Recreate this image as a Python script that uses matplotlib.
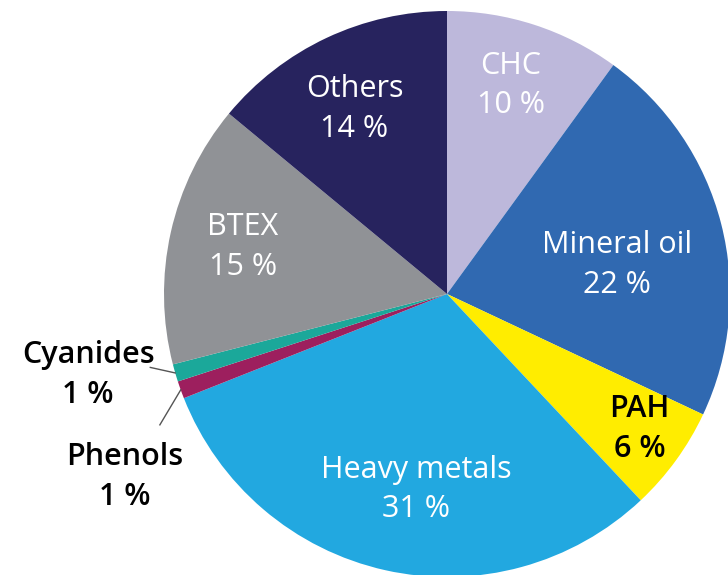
import numpy as np
import matplotlib.pyplot as plt

labels = ["CHC", "Mineral oil", "PAH", "Heavy metals", "Phenols", "Cyanides", "BTEX", "Others"]
shares = [10, 22, 6, 31, 1, 1, 15, 14]
colors = ["#bdb8db", "#3069b1", "#ffed00", "#22a8e0", "#9d1f5e", "#1ba89a", "#909296", "#27235e"]
text_colors = ["white", "white", "black", "white", "black", "black", "white", "white"]
text_weights = ["normal", "normal", "semibold", "normal", "semibold", "semibold", "normal", "normal"]

# label placement (radius as fraction of pie radius, angle in degrees)
label_pos = [(0.77, 73), (0.61, 9.6), (0.83, -35), (0.70, -99),
             (1.31, -150.4), (1.30, 192.7), (0.74, 167), (0.73, 116.6)]
# leader line start for the small slices outside the pie
leader_start = {"Phenols": (1.115, 204.5), "Cyanides": (1.08, 193.9)}

W, H = 728, 575
cx, cy, R = 447, 294, 283

fig = plt.figure(figsize=(W / 100, H / 100), dpi=100)
ax = fig.add_axes([0, 0, 1, 1])

wedges, _ = ax.pie(shares, colors=colors, startangle=90, counterclock=False,
                   radius=1.0, center=(0, 0), wedgeprops=dict(linewidth=0),
                   frame=True)
ax.set_xlim(-cx / R, (W - cx) / R)
ax.set_ylim(-(H - cy) / R, cy / R)
ax.set_aspect("equal")
ax.axis("off")


def polar(r, a):
    return r * np.cos(np.radians(a)), r * np.sin(np.radians(a))


for i, (lab, val) in enumerate(zip(labels, shares)):
    x, y = polar(*label_pos[i])
    ax.text(x, y, f"{lab}\n{val} %", ha="center", va="center",
            color=text_colors[i], fontsize=22, family="Open Sans",
            fontweight=text_weights[i], linespacing=1.42)
    if lab in leader_start:
        w = wedges[i]
        mid = (w.theta1 + w.theta2) / 2
        ex, ey = polar(1.0, mid)
        sx, sy = polar(*leader_start[lab])
        ax.plot([sx, ex], [sy, ey], color="#555555", lw=1)

fig.savefig("out.png", dpi=100)
